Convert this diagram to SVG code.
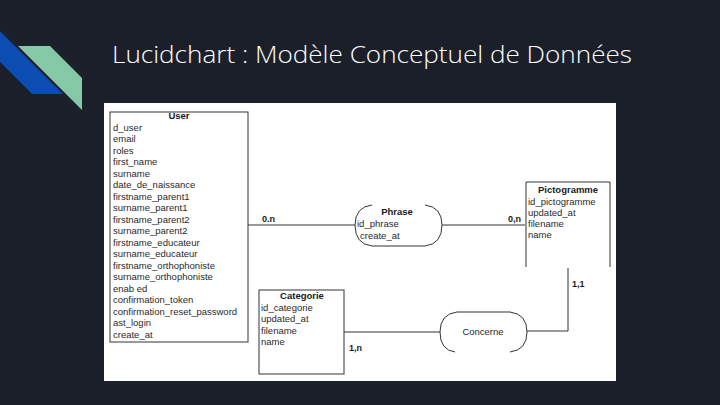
<svg xmlns="http://www.w3.org/2000/svg" width="720" height="405" viewBox="0 0 720 405">
<style>
.t{font-family:"Liberation Sans",Arial,sans-serif;font-size:9.5px;fill:#2a2a2a}
.b{font-family:"Liberation Sans",Arial,sans-serif;font-size:9.5px;font-weight:bold;fill:#1a1a1a}
.box{fill:#fff;stroke:#333;stroke-width:1}
.edge{fill:none;stroke:#333;stroke-width:1}
.card{font-family:"Liberation Sans",Arial,sans-serif;font-size:9px;font-weight:bold;fill:#1a1a1a}
</style>
<rect width="720" height="405" fill="#1b1f2a"/>
<polygon points="0,31 63,94 32,94 0,62" fill="#0b4db3"/>
<polygon points="18,46 50,46 82,78 82,110" fill="#86c9a6"/>
<text x="112" y="63" font-family="'Open Sans','Noto Sans',sans-serif" font-weight="300" font-size="24" fill="#ffffff" textLength="520" lengthAdjust="spacingAndGlyphs">Lucidchart : Modèle Conceptuel de Données</text>
<rect x="104" y="103" width="512" height="278" fill="#ffffff"/>

<g id="connectors">
<line class="edge" x1="248" y1="225" x2="355" y2="225"/>
<line class="edge" x1="442" y1="225" x2="525" y2="225"/>
<polyline class="edge" points="568,268 568,331 527,331"/>
<line class="edge" x1="344" y1="332" x2="440" y2="332"/>
<text class="card" x="262" y="222">0.n</text>
<text class="card" x="508" y="222">0,n</text>
<text class="card" x="572" y="287">1,1</text>
<text class="card" x="349" y="351">1,n</text>
</g>

<g id="user">
<rect class="box" x="110" y="112" width="138" height="230"/>
<text class="b" x="179" y="119" text-anchor="middle">User</text>
<text class="t" x="113" y="130.5">d_user</text>
<text class="t" x="113" y="142">email</text>
<text class="t" x="113" y="153.5">roles</text>
<text class="t" x="113" y="165">first_name</text>
<text class="t" x="113" y="176.5">surname</text>
<text class="t" x="113" y="188">date_de_naissance</text>
<text class="t" x="113" y="199.5">firstname_parent1</text>
<text class="t" x="113" y="211">surname_parent1</text>
<text class="t" x="113" y="222.5">firstname_parent2</text>
<text class="t" x="113" y="234">surname_parent2</text>
<text class="t" x="113" y="245.5">firstname_educateur</text>
<text class="t" x="113" y="257">surname_educateur</text>
<text class="t" x="113" y="268.5">firstname_orthophoniste</text>
<text class="t" x="113" y="280">surname_orthophoniste</text>
<text class="t" x="113" y="291.5">enab ed</text>
<text class="t" x="113" y="303">confirmation_token</text>
<text class="t" x="113" y="314.5">confirmation_reset_password</text>
<text class="t" x="113" y="326">ast_login</text>
<text class="t" x="113" y="337.5">create_at</text>
</g>

<g id="phrase">
<path class="edge" d="M372,205 Q355,207 355,225 Q355,244 372,246 L425,246 Q442,244 442,225 Q442,207 425,205"/>
<text class="b" x="397" y="215" text-anchor="middle">Phrase</text>
<text class="t" x="357" y="227">id_phrase</text>
<text class="t" x="360" y="239">create_at</text>
</g>

<g id="pictogramme">
<path class="edge" d="M526,267 L526,182 L610,182 L610,267"/>
<text class="b" x="568" y="193" text-anchor="middle">Pictogramme</text>
<text class="t" x="528" y="205">id_pictogramme</text>
<text class="t" x="528" y="216">updated_at</text>
<text class="t" x="528" y="227">filename</text>
<text class="t" x="528" y="238">name</text>
</g>

<g id="categorie">
<rect class="box" x="259" y="290" width="85" height="84"/>
<text class="b" x="302" y="299" text-anchor="middle">Categorie</text>
<text class="t" x="261" y="310.5">id_categorie</text>
<text class="t" x="261" y="322">updated_at</text>
<text class="t" x="261" y="333.5">filename</text>
<text class="t" x="261" y="345">name</text>
</g>

<g id="concerne">
<path class="edge" d="M455,352 Q440,350 440,332 Q440,314 457,312 L510,312 Q527,314 527,332 Q527,350 510,352"/>
<text class="t" x="483" y="335" text-anchor="middle">Concerne</text>
</g>
</svg>
